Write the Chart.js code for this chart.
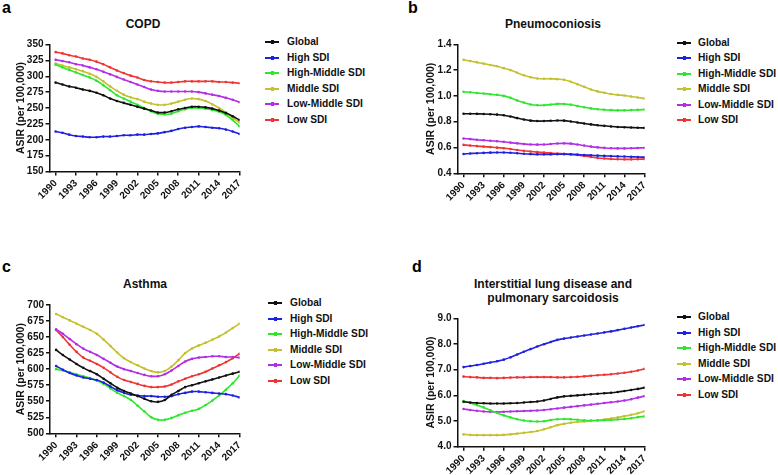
<!DOCTYPE html>
<html><head><meta charset="utf-8">
<script src="https://cdn.jsdelivr.net/npm/chart.js@4/dist/chart.umd.min.js"></script>
<style>
body{margin:0;background:#fff;width:778px;height:475px;position:relative;overflow:hidden;font-family:"Liberation Sans",Arial,sans-serif;}
canvas{position:absolute;}
.ttl{position:absolute;font-weight:bold;font-size:12px;text-align:center;white-space:nowrap;transform:translate(-50%,-50%);line-height:14px;color:#111}
.let{position:absolute;font-weight:bold;font-size:16px;line-height:1;color:#000}
.row{position:absolute;white-space:nowrap;height:14px;line-height:14px;font-weight:bold;font-size:10.2px;color:#111}
.sw{position:absolute;height:2px;width:14px}
.dot{position:absolute;width:3px;height:4px}
</style></head>
<body>
<script>
// ---------------- DATA ----------------
const years = [1990,1991,1992,1993,1994,1995,1996,1997,1998,1999,2000,2001,2002,2003,2004,2005,2006,2007,2008,2009,2010,2011,2012,2013,2014,2015,2016,2017];
const tickYears = [1990,1993,1996,1999,2002,2005,2008,2011,2014,2017];
const seriesNames = ['Global','High SDI','High-Middle SDI','Middle SDI','Low-Middle SDI','Low SDI'];

const copdYTicks = [150,175,200,225,250,275,300,325,350];
const copdGlobal = [290,287,284,282,279,277,274,270,265,261,258,255,252,249,246,243,243,245,248,250,252,252,251,249,246,242,237,231];
const copdHigh = [213,211,208,206,205,204,204,205,205,206,207,207,208,208,209,210,212,214,217,219,220,221,220,219,218,216,213,209];
const copdHighMid = [318,314,310,306,302,298,293,286,278,270,265,260,255,250,245,241,240,241,245,248,250,250,249,247,244,239,231,221];
const copdMid = [320,317,314,311,308,304,299,292,284,277,271,267,264,260,257,255,255,257,260,263,265,264,261,256,250,243,235,227];
const copdLowMid = [326,324,322,319,317,314,311,307,303,299,295,291,287,283,279,277,276,276,276,276,276,275,273,271,269,266,263,259];
const copdLow = [338,336,333,331,328,326,323,319,314,309,305,301,298,294,292,291,290,290,291,292,292,292,292,292,291,291,290,289];

const pneumoYTicks = [0.4,0.5,0.6,0.7,0.8,0.9,1.0,1.1,1.2,1.3,1.4];
const pneumoGlobal = [0.862,0.862,0.861,0.86,0.858,0.855,0.85,0.84,0.828,0.817,0.808,0.805,0.805,0.807,0.809,0.808,0.802,0.794,0.786,0.779,0.773,0.768,0.763,0.759,0.757,0.755,0.753,0.752];
const pneumoHigh = [0.55,0.553,0.556,0.558,0.56,0.561,0.561,0.559,0.556,0.552,0.549,0.547,0.547,0.547,0.548,0.548,0.547,0.545,0.542,0.54,0.537,0.535,0.533,0.531,0.53,0.528,0.526,0.525];
const pneumoHighMid = [1.032,1.028,1.023,1.018,1.013,1.008,1.0,0.985,0.965,0.948,0.933,0.927,0.927,0.933,0.938,0.937,0.932,0.922,0.912,0.903,0.897,0.893,0.89,0.888,0.888,0.89,0.892,0.895];
const pneumoMid = [1.28,1.27,1.26,1.25,1.24,1.23,1.215,1.2,1.18,1.16,1.145,1.135,1.133,1.132,1.13,1.125,1.11,1.09,1.07,1.05,1.035,1.025,1.015,1.008,1.003,0.995,0.988,0.98];
const pneumoLowMid = [0.67,0.665,0.66,0.656,0.652,0.648,0.644,0.638,0.632,0.627,0.623,0.622,0.623,0.627,0.631,0.632,0.63,0.623,0.615,0.607,0.601,0.597,0.594,0.593,0.593,0.594,0.596,0.598];
const pneumoLow = [0.62,0.616,0.611,0.607,0.603,0.599,0.594,0.588,0.581,0.575,0.569,0.564,0.56,0.557,0.554,0.552,0.548,0.542,0.535,0.526,0.519,0.515,0.511,0.509,0.508,0.508,0.509,0.51];

const asthmaYTicks = [500,525,550,575,600,625,650,675,700];
const asthmaGlobal = [630,622,615,608,602,597,592,585,578,571,566,562,558,554,550,549,552,560,566,572,575,578,581,584,587,590,593,596];
const asthmaHigh = [605,599,594,590,587,585,583,579,573,567,563,560,559,558,558,557,557,558,561,563,565,565,564,563,562,561,559,556];
const asthmaHighMid = [600,598,595,592,589,586,582,577,570,563,558,552,543,534,525,521,521,524,528,532,535,538,544,551,559,568,578,590];
const asthmaMid = [686,681,676,671,666,661,655,646,636,626,617,611,606,601,597,595,597,604,614,625,632,637,641,646,651,657,664,671];
const asthmaLowMid = [662,655,647,639,632,627,622,616,610,604,600,597,594,591,589,589,592,598,605,612,616,618,619,620,620,619,619,618];
const asthmaLow = [661,650,638,627,618,613,608,602,595,588,583,580,577,574,572,572,573,576,581,585,589,592,596,601,606,611,617,624];

const ildYTicks = [4.0,4.5,5.0,5.5,6.0,6.5,7.0,7.5,8.0,8.5,9.0];
const ildGlobal = [5.75,5.72,5.7,5.69,5.68,5.68,5.68,5.69,5.7,5.72,5.74,5.76,5.8,5.86,5.92,5.96,5.98,6.0,6.02,6.04,6.06,6.08,6.1,6.13,6.17,6.21,6.25,6.3];
const ildHigh = [7.1,7.14,7.18,7.23,7.28,7.33,7.39,7.48,7.59,7.7,7.8,7.9,7.99,8.08,8.16,8.21,8.25,8.29,8.33,8.37,8.41,8.45,8.49,8.54,8.59,8.64,8.69,8.74];
const ildHighMid = [5.78,5.7,5.62,5.53,5.42,5.31,5.22,5.14,5.07,5.02,4.99,4.98,4.99,5.04,5.07,5.08,5.07,5.05,5.03,5.02,5.02,5.03,5.04,5.06,5.08,5.11,5.15,5.18];
const ildMid = [4.48,4.46,4.45,4.45,4.45,4.45,4.46,4.48,4.51,4.54,4.57,4.61,4.68,4.76,4.84,4.89,4.93,4.96,4.98,5.0,5.03,5.06,5.1,5.14,5.19,5.24,5.3,5.38];
const ildLowMid = [5.47,5.43,5.4,5.37,5.36,5.35,5.36,5.37,5.38,5.39,5.4,5.41,5.43,5.46,5.49,5.52,5.55,5.58,5.61,5.64,5.67,5.7,5.73,5.76,5.8,5.85,5.91,5.97];
const ildLow = [6.73,6.71,6.7,6.68,6.68,6.67,6.68,6.69,6.7,6.7,6.71,6.71,6.71,6.71,6.7,6.7,6.71,6.72,6.74,6.76,6.78,6.8,6.82,6.85,6.88,6.92,6.97,7.03];

const yTitle = 'ASIR (per 100,000)';

// ---------------- STYLE / LAYOUT ----------------
const colors = ['#111111','#2020e0','#2ee62e','#c4c030','#b42ee6','#f03434'];

const panels = [
  {letter:'a', title:['COPD'], ticks:copdYTicks, dec:0,
   series:[copdGlobal,copdHigh,copdHighMid,copdMid,copdLowMid,copdLow],
   cv:{l:0,t:0,w:250,h:235}, area:{l:49.5,t:44.5,r:240,b:171.5}, axT:21,
   titlePos:[143,24], letterPos:[2,0], leg:{x:265,y:42,tx:287}},
  {letter:'b', title:['Pneumoconiosis'], ticks:pneumoYTicks, dec:1,
   series:[pneumoGlobal,pneumoHigh,pneumoHighMid,pneumoMid,pneumoLowMid,pneumoLow],
   cv:{l:390,t:0,w:265,h:235}, area:{l:67.5,t:44.3,r:260,b:173.3}, axT:41,
   titlePos:[553,24], letterPos:[408,0], leg:{x:677,y:42.5,tx:698}},
  {letter:'c', title:['Asthma'], ticks:asthmaYTicks, dec:0,
   series:[asthmaGlobal,asthmaHigh,asthmaHighMid,asthmaMid,asthmaLowMid,asthmaLow],
   cv:{l:0,t:235,w:250,h:240}, area:{l:50,t:70,r:240.5,b:198.3}, axT:21,
   titlePos:[145,284], letterPos:[2,258.5], leg:{x:268,y:303,tx:290}},
  {letter:'d', title:['Interstitial lung disease and','pulmonary sarcoidosis'], ticks:ildYTicks, dec:1,
   series:[ildGlobal,ildHigh,ildHighMid,ildMid,ildLowMid,ildLow],
   cv:{l:390,t:235,w:265,h:240}, area:{l:67.5,t:83.3,r:260,b:211.7}, axT:41,
   titlePos:[553,291], letterPos:[412,258.5], leg:{x:677,y:317,tx:698}}
];

const XAXIS_H = 40;
const tickFont = {family:'"Liberation Sans", Arial, sans-serif', size:10, weight:'bold'};

function el(tag, cls, css, text){
  const e = document.createElement(tag);
  if (cls) e.className = cls;
  Object.assign(e.style, css||{});
  if (text !== undefined) e.textContent = text;
  document.body.appendChild(e);
  return e;
}

panels.forEach(p => {
  el('div','let',{left:p.letterPos[0]+'px',top:p.letterPos[1]+'px'},p.letter);
  const t = el('div','ttl',{left:p.titlePos[0]+'px',top:p.titlePos[1]+'px'});
  t.innerHTML = p.title.join('<br>');

  seriesNames.forEach((name,i)=>{
    const cy = Math.round(p.leg.y + i*15.5);
    el('div','sw',{left:p.leg.x+'px',top:(cy-1)+'px',background:colors[i]});
    el('div','dot',{left:(p.leg.x+6)+'px',top:(cy-2)+'px',background:colors[i]});
    el('div','row',{left:p.leg.tx+'px',top:(cy-7)+'px'},name);
  });

  const cv = document.createElement('canvas');
  cv.width = p.cv.w; cv.height = p.cv.h;
  cv.style.left = p.cv.l+'px'; cv.style.top = p.cv.t+'px';
  cv.style.width = p.cv.w+'px'; cv.style.height = p.cv.h+'px';
  document.body.appendChild(cv);

  const datasets = p.series.map((vals,i)=>({
    label: seriesNames[i],
    data: years.map((yr,k)=>({x:yr, y:vals[k]})),
    borderColor: colors[i], backgroundColor: colors[i],
    borderWidth: 1.6, pointRadius: 1.3, pointHoverRadius: 1.3,
    pointBorderWidth: 0, tension: 0.4, fill:false
  }));

  new Chart(cv, {
    type:'line',
    data:{datasets},
    options:{
      responsive:false, animation:false, devicePixelRatio:1,
      layout:{padding:{left:0, top:p.area.t, right:p.cv.w-p.area.r, bottom:p.cv.h-p.area.b-XAXIS_H}},
      plugins:{legend:{display:false}, title:{display:false}, tooltip:{enabled:false}},
      scales:{
        x:{type:'linear', min:1989.1, max:2017,
           afterBuildTicks:s=>{ s.ticks = tickYears.map(v=>({value:v})); },
           afterFit:s=>{ s.height = XAXIS_H; },
           ticks:{autoSkip:false, minRotation:45, maxRotation:45, padding:2, color:'#111', font:tickFont,
                  callback:v=>String(v)},
           grid:{drawOnChartArea:false, drawTicks:true, tickLength:4, color:'#111', lineWidth:1.5},
           border:{display:true, color:'#111', width:1.5}},
        y:{type:'linear', min:p.ticks[0], max:p.ticks[p.ticks.length-1],
           afterBuildTicks:s=>{ s.ticks = p.ticks.map(v=>({value:v})); },
           afterFit:s=>{ s.width = p.area.l; },
           ticks:{padding:2, color:'#111', font:tickFont, callback:v=>Number(v).toFixed(p.dec)},
           grid:{drawOnChartArea:false, drawTicks:true, tickLength:4, color:'#111', lineWidth:1.5},
           border:{display:true, color:'#111', width:1.5},
           title:{display:true, text:yTitle, color:'#111', padding:{top:p.axT-6.3, bottom:0},
                  font:{family:'"Liberation Sans", Arial, sans-serif', size:10.5, weight:'bold', lineHeight:1.2}}}
      }
    }
  });
});
</script>
</body></html>
